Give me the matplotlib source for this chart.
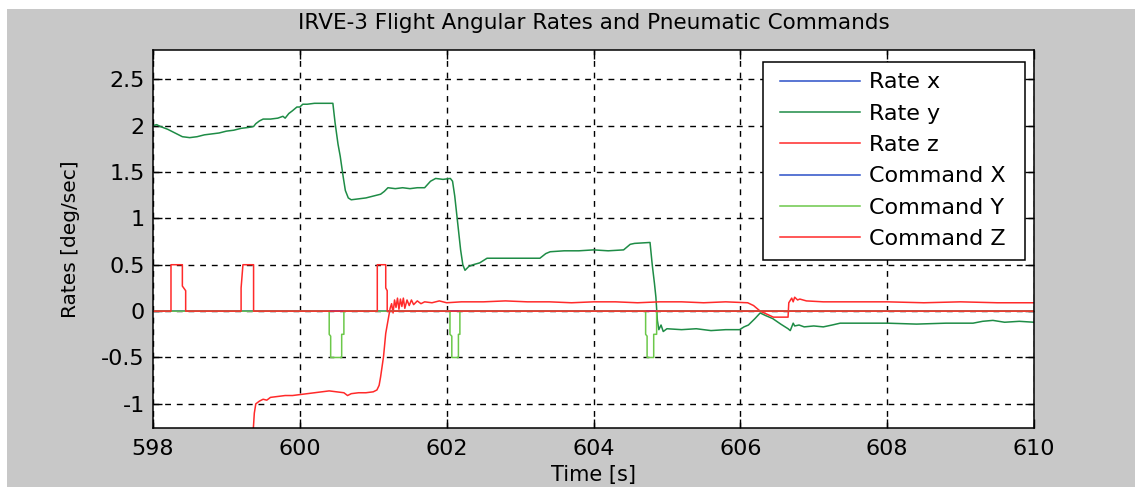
import matplotlib
matplotlib.use("Agg")
import matplotlib.pyplot as plt
from matplotlib.patches import Rectangle

# ---------------- data ----------------
rate_y_t = [598.00, 598.05, 598.10, 598.20, 598.30, 598.40, 598.50, 598.60, 598.70, 598.80,
            598.90, 599.00, 599.10, 599.20, 599.30, 599.37, 599.40, 599.45, 599.50, 599.60,
            599.70, 599.77, 599.80, 599.85, 599.90, 599.96, 600.00, 600.04, 600.10, 600.20,
            600.30, 600.45, 600.48, 600.52, 600.55, 600.59, 600.62, 600.66, 600.70, 600.80,
            600.90, 601.00, 601.10, 601.15, 601.20, 601.30, 601.40, 601.50, 601.60, 601.70,
            601.78, 601.85, 601.95, 602.05, 602.08, 602.11, 602.15, 602.19, 602.22, 602.25,
            602.30, 602.36, 602.45, 602.55, 602.60, 602.80, 603.00, 603.27, 603.35, 603.41,
            603.60, 603.80, 604.00, 604.20, 604.41, 604.50, 604.56, 604.77, 604.80, 604.83,
            604.85, 604.87, 604.89, 604.92, 604.95, 605.00, 605.20, 605.40, 605.60, 605.80,
            605.99, 606.05, 606.11, 606.20, 606.27, 606.35, 606.44, 606.55, 606.65, 606.68,
            606.72, 606.74, 606.80, 606.87, 607.00, 607.13, 607.25, 607.36, 607.60, 608.00,
            608.40, 608.80, 609.17, 609.30, 609.44, 609.60, 609.80, 610.00]
rate_y_v = [2.00, 2.01, 1.99, 1.96, 1.92, 1.88, 1.87, 1.88, 1.90, 1.91,
            1.92, 1.94, 1.95, 1.97, 1.98, 1.99, 2.02, 2.05, 2.07, 2.07,
            2.08, 2.10, 2.08, 2.13, 2.16, 2.20, 2.20, 2.23, 2.23, 2.24,
            2.24, 2.24, 2.03, 1.80, 1.67, 1.45, 1.30, 1.22, 1.20, 1.21,
            1.22, 1.24, 1.26, 1.29, 1.33, 1.32, 1.33, 1.32, 1.33, 1.33,
            1.40, 1.43, 1.42, 1.43, 1.40, 1.24, 0.95, 0.66, 0.50, 0.44,
            0.48, 0.50, 0.52, 0.57, 0.57, 0.57, 0.57, 0.57, 0.62, 0.64,
            0.65, 0.65, 0.66, 0.65, 0.66, 0.72, 0.73, 0.74, 0.50, 0.30,
            0.15, -0.10, -0.20, -0.15, -0.22, -0.19, -0.20, -0.19, -0.21, -0.20,
            -0.20, -0.17, -0.15, -0.08, -0.02, -0.05, -0.08, -0.14, -0.19, -0.21,
            -0.13, -0.16, -0.15, -0.17, -0.16, -0.17, -0.15, -0.13, -0.13, -0.13,
            -0.14, -0.13, -0.13, -0.11, -0.10, -0.12, -0.11, -0.12]

rate_z_t = [599.36, 599.38, 599.40, 599.45, 599.50, 599.55, 599.60, 599.70, 599.80, 599.90,
            600.00, 600.10, 600.20, 600.30, 600.40, 600.50, 600.60, 600.65, 600.70, 600.80,
            600.90, 601.00, 601.05, 601.08, 601.10, 601.14, 601.17, 601.21, 601.23, 601.25,
            601.27, 601.29, 601.31, 601.33, 601.35, 601.37, 601.39, 601.41, 601.43, 601.46,
            601.49, 601.52, 601.55, 601.60, 601.65, 601.70, 601.80, 601.90, 602.00, 602.20,
            602.50, 602.80, 603.10, 603.40, 603.70, 604.00, 604.30, 604.60, 604.90, 605.20,
            605.50, 605.80, 606.10, 606.18, 606.27, 606.45, 606.65, 606.66, 606.70, 606.72,
            606.74, 606.78, 606.81, 606.90, 607.13, 607.50, 608.00, 608.50, 609.00, 609.50,
            610.00]
rate_z_v = [-1.35, -1.10, -1.00, -0.97, -0.95, -0.96, -0.93, -0.92, -0.91, -0.91,
            -0.90, -0.89, -0.88, -0.87, -0.86, -0.87, -0.88, -0.91, -0.89, -0.88,
            -0.88, -0.87, -0.85, -0.80, -0.71, -0.49, -0.24, -0.06, 0.03, 0.08,
            -0.02, 0.12, 0.04, 0.14, 0.02, 0.13, 0.05, 0.14, 0.03, 0.12,
            0.06, 0.12, 0.07, 0.11, 0.08, 0.10, 0.09, 0.11, 0.09, 0.10,
            0.10, 0.11, 0.10, 0.10, 0.09, 0.10, 0.10, 0.09, 0.10, 0.10,
            0.09, 0.10, 0.09, 0.06, 0.00, -0.065, -0.065, 0.09, 0.14, 0.10,
            0.15, 0.12, 0.13, 0.11, 0.10, 0.10, 0.10, 0.09, 0.10, 0.09,
            0.09]

rate_x_t = [598.0, 610.0]
rate_x_v = [0.0, 0.0]

cmd_x_t = [598.0, 610.0]
cmd_x_v = [0.0, 0.0]

cmd_y_t = [598.00, 600.40, 600.40, 600.42, 600.42, 600.57, 600.57, 600.60, 600.60,
           602.045, 602.045, 602.07, 602.07, 602.16, 602.16, 602.18, 602.18,
           604.71, 604.71, 604.73, 604.73, 604.82, 604.82, 604.86, 604.86, 610.00]
cmd_y_v = [0.0, 0.0, -0.25, -0.27, -0.5, -0.5, -0.25, -0.25, 0.0,
           0.0, -0.25, -0.27, -0.5, -0.5, -0.25, -0.25, 0.0,
           0.0, -0.25, -0.27, -0.5, -0.5, -0.25, -0.25, 0.0, 0.0]

cmd_z_t = [598.00, 598.245, 598.245, 598.40, 598.40, 598.445, 598.445,
           599.20, 599.20, 599.225, 599.37, 599.37,
           601.055, 601.055, 601.17, 601.17, 601.19, 601.19, 610.00]
cmd_z_v = [0.0, 0.0, 0.5, 0.5, 0.27, 0.22, 0.0,
           0.0, 0.25, 0.5, 0.5, 0.0,
           0.0, 0.5, 0.5, 0.25, 0.22, 0.0, 0.0]

series_labels = ["Rate x", "Rate y", "Rate z", "Command X", "Command Y", "Command Z"]
x_ticks = [598, 600, 602, 604, 606, 608, 610]
y_ticks = [-1, -0.5, 0, 0.5, 1, 1.5, 2, 2.5]
y_tick_labels = ["-1", "-0.5", "0", "0.5", "1", "1.5", "2", "2.5"]

# ---------------- style ----------------
W, H = 1135, 487
plt.rcParams['font.family'] = ['DejaVu Sans']
fig = plt.figure(figsize=(W / 100, H / 100), dpi=100)
fig.patch.set_facecolor('#c8c8c8')
# white strips at top and left edges of the screenshot
fig.patches.append(Rectangle((0, 1 - 9 / H), 1, 9 / H, transform=fig.transFigure,
                             facecolor='white', edgecolor='none', zorder=0))
fig.patches.append(Rectangle((0, 0), 7 / W, 1, transform=fig.transFigure,
                             facecolor='white', edgecolor='none', zorder=0))

ax_l, ax_r, ax_t, ax_b = 153, 1034, 49.5, 428
ax = fig.add_axes([ax_l / W, 1 - ax_b / H, (ax_r - ax_l) / W, (ax_b - ax_t) / H])
ax.set_facecolor('white')

c_blue = '#2b50c8'
c_dkgreen = '#1e8c46'
c_red = '#ff2a2a'
c_ltgreen = '#6cc84a'

lw = 1.1
h1, = ax.plot(rate_x_t, rate_x_v, color=c_blue, lw=lw)
h2, = ax.plot(rate_y_t, rate_y_v, color=c_dkgreen, lw=lw)
h3, = ax.plot(rate_z_t, rate_z_v, color=c_red, lw=lw)
h4, = ax.plot(cmd_x_t, cmd_x_v, color=c_blue, lw=lw)
h5, = ax.plot(cmd_y_t, cmd_y_v, color=c_ltgreen, lw=lw)
h6, = ax.plot(cmd_z_t, cmd_z_v, color=c_red, lw=lw)

ax.set_xlim(598, 610)
ax.set_ylim(-1.26, 2.82)
ax.set_xticks(x_ticks)
ax.set_xticklabels([str(v) for v in x_ticks])
ax.set_yticks(y_ticks)
ax.set_yticklabels(y_tick_labels)

ax.grid(True, color='black', linestyle=(0, (4.2, 4.2)), linewidth=1.0)
ax.tick_params(direction='in', length=6.5, width=1, top=True, right=True,
               labelsize=16, colors='black', pad=6)
ax.tick_params(axis='x', pad=8)
for s in ax.spines.values():
    s.set_linewidth(1.1)
    s.set_color('black')

fig.text((ax_l + ax_r) / 2 / W, 1 - 23 / H,
         "IRVE-3 Flight Angular Rates and Pneumatic Commands",
         ha='center', va='center', fontsize=15.5, color='black')
fig.text((ax_l + ax_r) / 2 / W, 1 - 475 / H, "Time [s]",
         ha='center', va='center', fontsize=15, color='black')
fig.text(71 / W, 1 - 239 / H, "Rates [deg/sec]", rotation=90,
         ha='center', va='center', fontsize=14.5, color='black')

# legend frame and legend
lx0, lx1, ly0, ly1 = 763, 1025, 62, 260
frame = Rectangle((lx0 / W, 1 - ly1 / H), (lx1 - lx0) / W, (ly1 - ly0) / H,
                  transform=fig.transFigure, facecolor='white', edgecolor='black',
                  linewidth=1.1, zorder=4)
ax.add_patch(frame)
frame.set_clip_on(False)
leg = ax.legend([h1, h2, h3, h4, h5, h6], series_labels,
                loc='upper left', bbox_to_anchor=(776 / W, 1 - 68 / H),
                bbox_transform=fig.transFigure, frameon=False,
                fontsize=16, handlelength=3.6, handletextpad=0.4,
                labelspacing=0.51, borderpad=0.2, borderaxespad=0)
leg.set_zorder(5)

fig.savefig("out.png", dpi=100, facecolor=fig.get_facecolor())
